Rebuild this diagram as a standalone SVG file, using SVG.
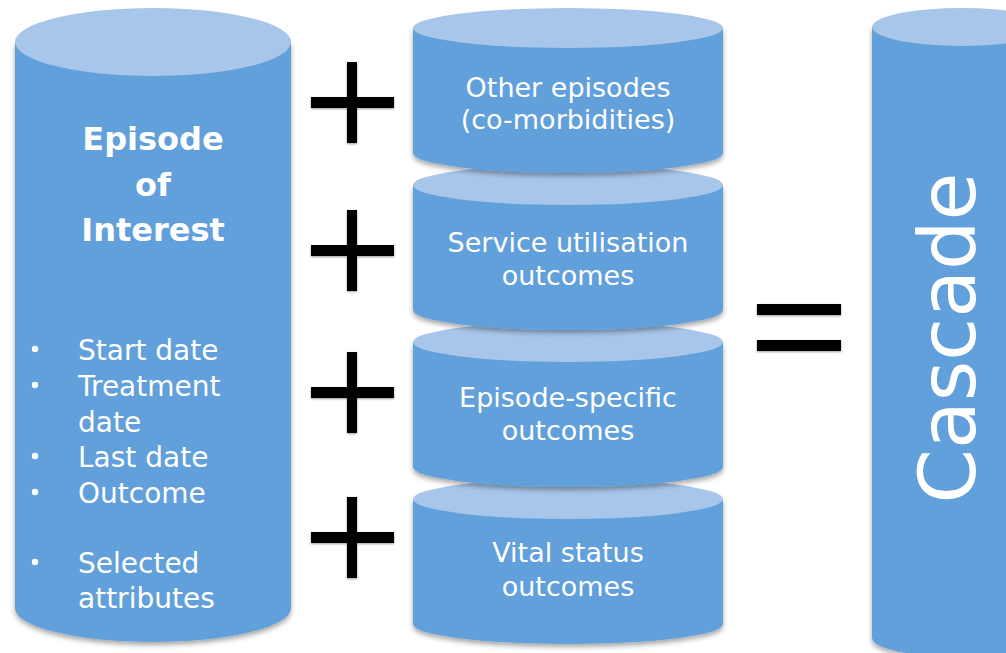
<svg xmlns="http://www.w3.org/2000/svg" width="1006" height="653" viewBox="0 0 1006 653">
  <defs>
    <filter id="shadow" x="-10%" y="-10%" width="120%" height="130%">
      <feDropShadow dx="0" dy="3" stdDeviation="2.5" flood-color="#000" flood-opacity="0.35"/>
    </filter>
    <filter id="opshadow" x="-10%" y="-10%" width="120%" height="130%">
      <feDropShadow dx="0" dy="1" stdDeviation="0.8" flood-color="#000" flood-opacity="0.4"/>
    </filter>
  </defs>
  <style>
    .body { fill: #62A0DB; }
    .top { fill: #A8C6EA; }
    .lbl { font-family: "DejaVu Sans", "Liberation Sans", sans-serif; font-size: 27px; fill: #FFFFFF; text-anchor: middle; }
    .title { font-family: "DejaVu Sans", "Liberation Sans", sans-serif; font-size: 32px; font-weight: bold; fill: #FFFFFF; text-anchor: middle; }
    .item { font-family: "DejaVu Sans", "Liberation Sans", sans-serif; font-size: 28px; fill: #FFFFFF; }
    .bullet { fill: #FFFFFF; }
    .op { fill: #000000; }
    .cascade { font-family: "DejaVu Sans", "Liberation Sans", sans-serif; font-size: 78px; fill: #FFFFFF; text-anchor: middle; }
  </style>
  <rect width="1006" height="653" fill="#FFFFFF"/>

  <g id="episode-of-interest">
    <path class="body" filter="url(#shadow)" d="M15,42 V608 A138,34 0 0 0 291,608 V42 Z"/>
    <ellipse class="top" cx="153" cy="42" rx="138" ry="34"/>
    <text class="title" x="153" y="150">Episode</text>
    <text class="title" x="153" y="196">of</text>
    <text class="title" x="153" y="241">Interest</text>
    <circle class="bullet" cx="35" cy="349" r="3.2"/>
    <text class="item" x="78" y="360">Start date</text>
    <circle class="bullet" cx="35" cy="385" r="3.2"/>
    <text class="item" x="78" y="396">Treatment</text>
    <text class="item" x="78" y="432">date</text>
    <circle class="bullet" cx="35" cy="456" r="3.2"/>
    <text class="item" x="78" y="467">Last date</text>
    <circle class="bullet" cx="35" cy="492" r="3.2"/>
    <text class="item" x="78" y="503">Outcome</text>
    <circle class="bullet" cx="35" cy="562" r="3.2"/>
    <text class="item" x="78" y="573">Selected</text>
    <text class="item" x="78" y="608">attributes</text>
  </g>

  <g id="vital-status">
    <path class="body" filter="url(#shadow)" d="M413,499 V624 A155,20 0 0 0 723,624 V499 Z"/>
    <ellipse class="top" cx="568" cy="499" rx="155" ry="20"/>
    <text class="lbl" x="568" y="562">Vital status</text>
    <text class="lbl" x="568" y="596">outcomes</text>
  </g>

  <g id="episode-specific">
    <path class="body" filter="url(#shadow)" d="M413,342 V467 A155,20 0 0 0 723,467 V342 Z"/>
    <ellipse class="top" cx="568" cy="342" rx="155" ry="20"/>
    <text class="lbl" x="568" y="407">Episode-specific</text>
    <text class="lbl" x="568" y="440">outcomes</text>
  </g>

  <g id="service-utilisation">
    <path class="body" filter="url(#shadow)" d="M413,185 V310 A155,20 0 0 0 723,310 V185 Z"/>
    <ellipse class="top" cx="568" cy="185" rx="155" ry="20"/>
    <text class="lbl" x="568" y="252">Service utilisation</text>
    <text class="lbl" x="568" y="285">outcomes</text>
  </g>

  <g id="other-episodes">
    <path class="body" filter="url(#shadow)" d="M413,28 V153 A155,20 0 0 0 723,153 V28 Z"/>
    <ellipse class="top" cx="568" cy="28" rx="155" ry="20"/>
    <text class="lbl" x="568" y="97">Other episodes</text>
    <text class="lbl" x="568" y="129">(co-morbidities)</text>
  </g>

  <g id="cascade">
    <path class="body" filter="url(#shadow)" d="M872,27 V638 A90,19 0 0 0 1052,638 V27 Z"/>
    <ellipse class="top" cx="962" cy="27" rx="90" ry="19"/>
    <text class="cascade" x="975" y="338" transform="rotate(-90 975 338)">Cascade</text>
  </g>

  <g id="connectors">
    <g id="plus-1" filter="url(#opshadow)">
      <rect class="op" x="347" y="62" width="10" height="81"/>
      <rect class="op" x="311" y="97" width="83" height="11"/>
    </g>
    <g id="plus-2" filter="url(#opshadow)">
      <rect class="op" x="347" y="210" width="10" height="81"/>
      <rect class="op" x="311" y="245" width="83" height="11"/>
    </g>
    <g id="plus-3" filter="url(#opshadow)">
      <rect class="op" x="347" y="352" width="10" height="81"/>
      <rect class="op" x="311" y="387" width="83" height="11"/>
    </g>
    <g id="plus-4" filter="url(#opshadow)">
      <rect class="op" x="347" y="497" width="10" height="81"/>
      <rect class="op" x="311" y="532" width="83" height="11"/>
    </g>
    <g id="equals" filter="url(#opshadow)">
      <rect class="op" x="757" y="304" width="84" height="11"/>
      <rect class="op" x="757" y="340" width="84" height="11"/>
    </g>
  </g>
</svg>
